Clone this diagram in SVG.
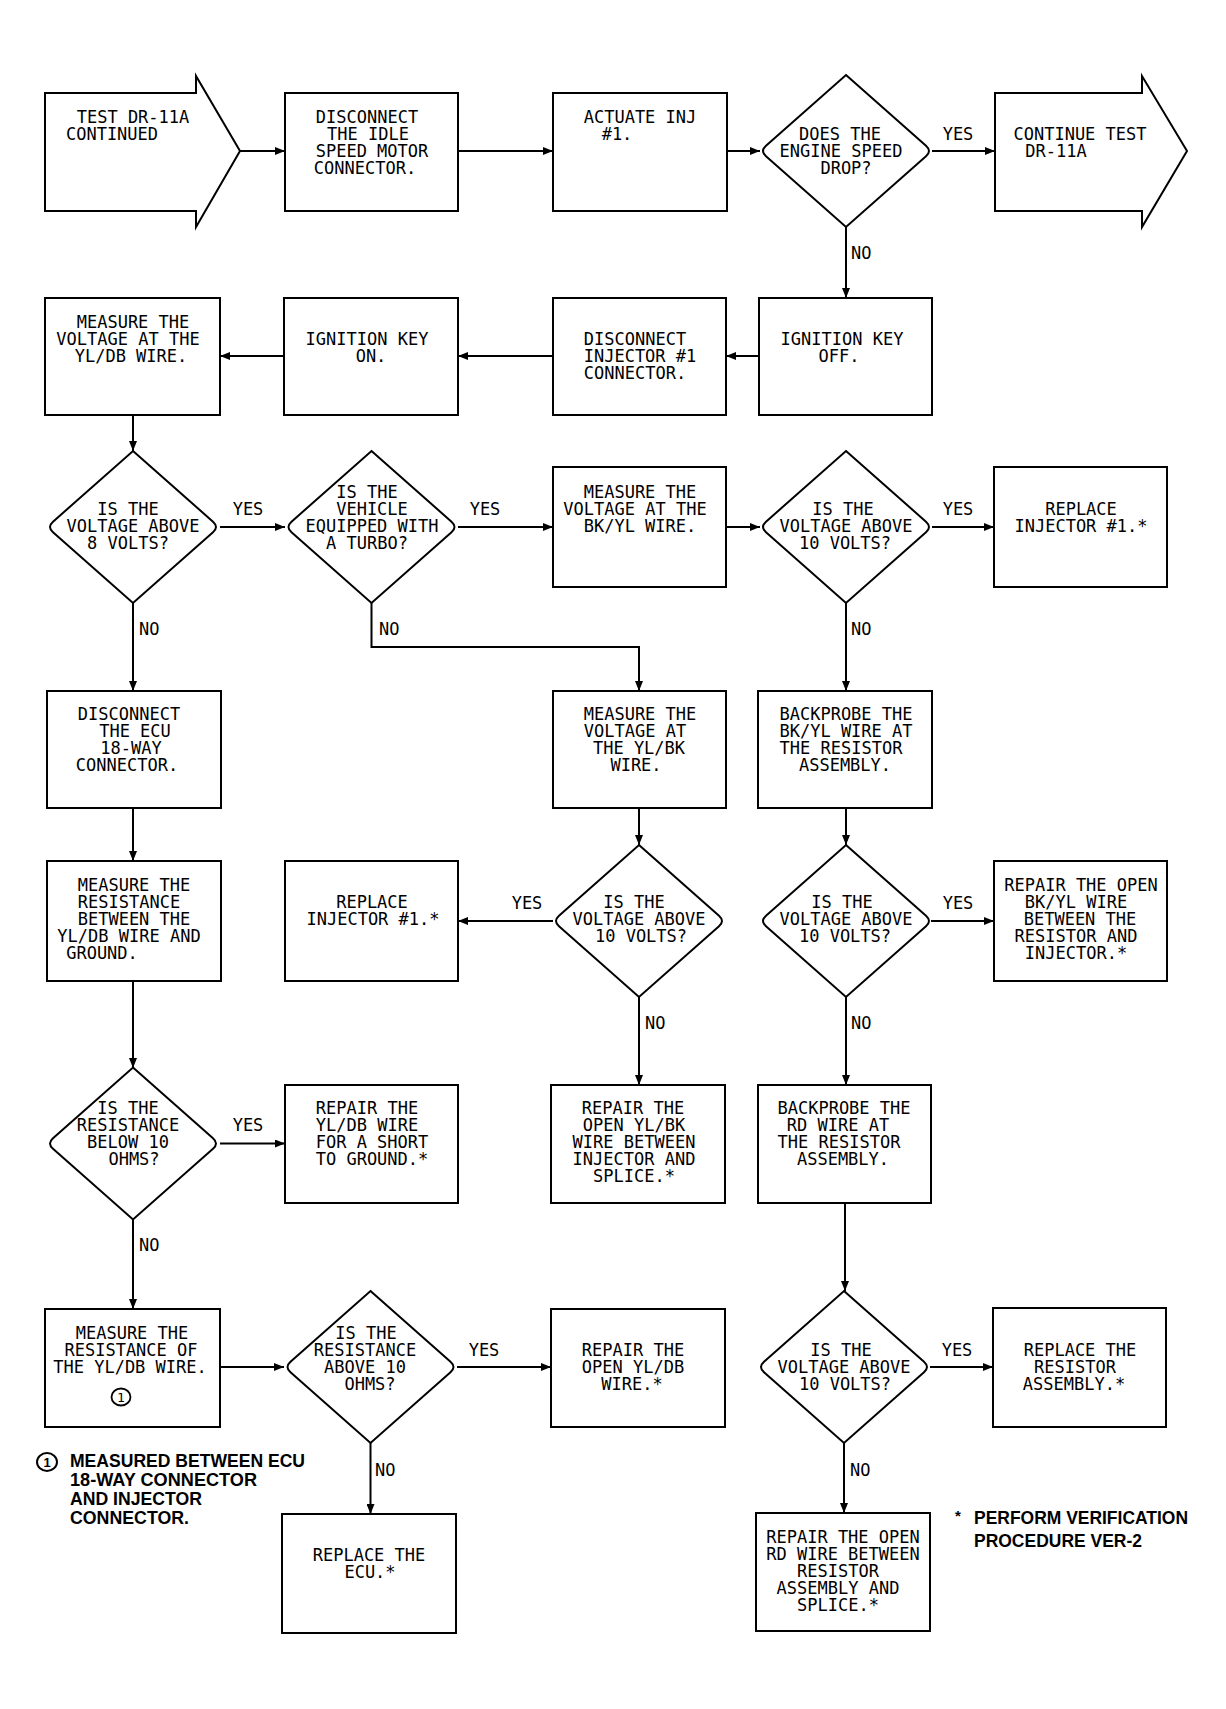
<svg xmlns="http://www.w3.org/2000/svg" xmlns:xlink="http://www.w3.org/1999/xlink" width="1226" height="1709" viewBox="0 0 1226 1709">
<style>
.bx{fill:#fff;stroke:#000;stroke-width:2}
.t{font-family:"DejaVu Sans Mono","Liberation Mono",monospace;font-size:17px;text-anchor:middle;fill:#000}
.l{font-family:"DejaVu Sans Mono","Liberation Mono",monospace;font-size:17px;fill:#000}
.c{fill:none;stroke:#000;stroke-width:2;marker-end:url(#ah)}
.fn{font-family:"Liberation Sans",Arial,sans-serif;font-weight:bold;font-size:18px;fill:#000}
</style>
<defs>
<marker id="ah" markerUnits="userSpaceOnUse" markerWidth="10" markerHeight="8" refX="10" refY="4" orient="auto">
<path d="M0,0 L10,4 L0,8 z" fill="#000"/>
</marker>
<path id="dia" d="M0,-76 L80,-5.3 Q86,0 80,5.3 L0,76 L-80,5.3 Q-86,0 -80,-5.3 Z" fill="#fff" stroke="#000" stroke-width="2"/>
</defs>
<rect width="1226" height="1709" fill="#fff"/>

<g id="connectors">
<path class="c" d="M240,151 H285"/>
<path class="c" d="M458,151 H553"/>
<path class="c" d="M727,151 H760"/>
<path class="c" d="M932,151 H995"/>
<path class="c" d="M846,227 V298"/>
<path class="c" d="M759,356 H726"/>
<path class="c" d="M553,356 H458"/>
<path class="c" d="M284,356 H220"/>
<path class="c" d="M133,415 V451"/>
<path class="c" d="M220,527 H285"/>
<path class="c" d="M458,527 H553"/>
<path class="c" d="M726,527 H760"/>
<path class="c" d="M932,527 H994"/>
<path class="c" d="M133,603 V691"/>
<path class="c" d="M371.5,603 V647 H639 V691"/>
<path class="c" d="M846,603 V691"/>
<path class="c" d="M133,808 V861"/>
<path class="c" d="M639,808 V845"/>
<path class="c" d="M846,808 V845"/>
<path class="c" d="M553,921 H458"/>
<path class="c" d="M931,921 H994"/>
<path class="c" d="M133,981 V1068"/>
<path class="c" d="M639,997 V1085"/>
<path class="c" d="M846,997 V1085"/>
<path class="c" d="M220,1143.5 H285"/>
<path class="c" d="M133,1219 V1309"/>
<path class="c" d="M845,1203 V1291"/>
<path class="c" d="M220,1367 H284"/>
<path class="c" d="M457,1367 H551"/>
<path class="c" d="M930,1367 H993"/>
<path class="c" d="M370.5,1443 V1514"/>
<path class="c" d="M844,1443 V1513"/>
</g>

<g id="edge-labels">
<text class="t" x="958" y="140">YES</text>
<text class="l" x="851" y="259">NO</text>
<text class="t" x="248" y="515">YES</text>
<text class="t" x="485" y="515">YES</text>
<text class="t" x="958" y="515">YES</text>
<text class="l" x="139" y="635">NO</text>
<text class="l" x="379" y="635">NO</text>
<text class="l" x="851" y="635">NO</text>
<text class="t" x="527" y="909">YES</text>
<text class="t" x="958" y="909">YES</text>
<text class="l" x="645" y="1029">NO</text>
<text class="l" x="851" y="1029">NO</text>
<text class="t" x="248" y="1131">YES</text>
<text class="l" x="139" y="1251">NO</text>
<text class="t" x="484" y="1356">YES</text>
<text class="t" x="957" y="1356">YES</text>
<text class="l" x="375" y="1476">NO</text>
<text class="l" x="850" y="1476">NO</text>
</g>

<g id="n-test-continued">
<polygon class="bx" points="45,93 196,93 196,76 240,151 196,227 196,211 45,211"/>
<text class="t" x="133" y="123">TEST DR-11A</text>
<text class="t" x="112" y="140">CONTINUED</text>
</g>
<g id="n-disconnect-isc">
<rect class="bx" x="285" y="93" width="173" height="118"/>
<text class="t" x="367" y="123">DISCONNECT</text>
<text class="t" x="368" y="140">THE IDLE</text>
<text class="t" x="372" y="157">SPEED MOTOR</text>
<text class="t" x="365" y="174">CONNECTOR.</text>
</g>
<g id="n-actuate">
<rect class="bx" x="553" y="93" width="174" height="118"/>
<text class="t" x="640" y="123">ACTUATE INJ</text>
<text class="t" x="617" y="140">#1.</text>
</g>
<g id="n-speed-drop">
<use xlink:href="#dia" x="846" y="151"/>
<text class="t" x="840" y="140">DOES THE</text>
<text class="t" x="841" y="157">ENGINE SPEED</text>
<text class="t" x="846" y="174">DROP?</text>
</g>
<g id="n-continue">
<polygon class="bx" points="995,93 1142,93 1142,76 1187,151 1142,227 1142,211 995,211"/>
<text class="t" x="1080" y="140">CONTINUE TEST</text>
<text class="t" x="1056" y="157">DR-11A</text>
</g>
<g id="n-ign-off">
<rect class="bx" x="759" y="298" width="173" height="117"/>
<text class="t" x="842" y="345">IGNITION KEY</text>
<text class="t" x="839" y="362">OFF.</text>
</g>
<g id="n-disc-inj">
<rect class="bx" x="553" y="298" width="173" height="117"/>
<text class="t" x="635" y="345">DISCONNECT</text>
<text class="t" x="640" y="362">INJECTOR #1</text>
<text class="t" x="635" y="379">CONNECTOR.</text>
</g>
<g id="n-ign-on">
<rect class="bx" x="284" y="298" width="174" height="117"/>
<text class="t" x="367" y="345">IGNITION KEY</text>
<text class="t" x="371" y="362">ON.</text>
</g>
<g id="n-meas-yldb">
<rect class="bx" x="45" y="298" width="175" height="117"/>
<text class="t" x="133" y="328">MEASURE THE</text>
<text class="t" x="128" y="345">VOLTAGE AT THE</text>
<text class="t" x="131" y="362">YL/DB WIRE.</text>
</g>
<g id="n-above-8">
<use xlink:href="#dia" x="133" y="527"/>
<text class="t" x="128" y="515">IS THE</text>
<text class="t" x="133" y="532">VOLTAGE ABOVE</text>
<text class="t" x="128" y="549">8 VOLTS?</text>
</g>
<g id="n-turbo">
<use xlink:href="#dia" x="371.5" y="527"/>
<text class="t" x="367" y="498">IS THE</text>
<text class="t" x="372" y="515">VEHICLE</text>
<text class="t" x="372" y="532">EQUIPPED WITH</text>
<text class="t" x="367" y="549">A TURBO?</text>
</g>
<g id="n-meas-bkyl">
<rect class="bx" x="553" y="467" width="173" height="120"/>
<text class="t" x="640" y="498">MEASURE THE</text>
<text class="t" x="635" y="515">VOLTAGE AT THE</text>
<text class="t" x="640" y="532">BK/YL WIRE.</text>
</g>
<g id="n-above-10a">
<use xlink:href="#dia" x="846" y="527"/>
<text class="t" x="843" y="515">IS THE</text>
<text class="t" x="846" y="532">VOLTAGE ABOVE</text>
<text class="t" x="845" y="549">10 VOLTS?</text>
</g>
<g id="n-replace-inj-a">
<rect class="bx" x="994" y="467" width="173" height="120"/>
<text class="t" x="1081" y="515">REPLACE</text>
<text class="t" x="1081" y="532">INJECTOR #1.*</text>
</g>
<g id="n-disc-ecu">
<rect class="bx" x="47" y="691" width="174" height="117"/>
<text class="t" x="129" y="720">DISCONNECT</text>
<text class="t" x="135" y="737">THE ECU</text>
<text class="t" x="131" y="754">18-WAY</text>
<text class="t" x="127" y="771">CONNECTOR.</text>
</g>
<g id="n-meas-ylbk">
<rect class="bx" x="553" y="691" width="173" height="117"/>
<text class="t" x="640" y="720">MEASURE THE</text>
<text class="t" x="635" y="737">VOLTAGE AT</text>
<text class="t" x="639" y="754">THE YL/BK</text>
<text class="t" x="636" y="771">WIRE.</text>
</g>
<g id="n-backprobe-bkyl">
<rect class="bx" x="758" y="691" width="174" height="117"/>
<text class="t" x="846" y="720">BACKPROBE THE</text>
<text class="t" x="846" y="737">BK/YL WIRE AT</text>
<text class="t" x="841" y="754">THE RESISTOR</text>
<text class="t" x="845" y="771">ASSEMBLY.</text>
</g>
<g id="n-meas-res-gnd">
<rect class="bx" x="47" y="861" width="174" height="120"/>
<text class="t" x="134" y="891">MEASURE THE</text>
<text class="t" x="129" y="908">RESISTANCE</text>
<text class="t" x="134" y="925">BETWEEN THE</text>
<text class="t" x="129" y="942">YL/DB WIRE AND</text>
<text class="t" x="102" y="959">GROUND.</text>
</g>
<g id="n-replace-inj-b">
<rect class="bx" x="285" y="861" width="173" height="120"/>
<text class="t" x="372" y="908">REPLACE</text>
<text class="t" x="373" y="925">INJECTOR #1.*</text>
</g>
<g id="n-above-10b">
<use xlink:href="#dia" x="639" y="921"/>
<text class="t" x="634" y="908">IS THE</text>
<text class="t" x="639" y="925">VOLTAGE ABOVE</text>
<text class="t" x="641" y="942">10 VOLTS?</text>
</g>
<g id="n-above-10c">
<use xlink:href="#dia" x="846" y="921"/>
<text class="t" x="842" y="908">IS THE</text>
<text class="t" x="846" y="925">VOLTAGE ABOVE</text>
<text class="t" x="845" y="942">10 VOLTS?</text>
</g>
<g id="n-repair-bkyl">
<rect class="bx" x="994" y="861" width="173" height="120"/>
<text class="t" x="1081" y="891">REPAIR THE OPEN</text>
<text class="t" x="1076" y="908">BK/YL WIRE</text>
<text class="t" x="1080" y="925">BETWEEN THE</text>
<text class="t" x="1076" y="942">RESISTOR AND</text>
<text class="t" x="1076" y="959">INJECTOR.*</text>
</g>
<g id="n-below-10">
<use xlink:href="#dia" x="133" y="1143.5"/>
<text class="t" x="128" y="1114">IS THE</text>
<text class="t" x="128" y="1131">RESISTANCE</text>
<text class="t" x="128" y="1148">BELOW 10</text>
<text class="t" x="134" y="1165">OHMS?</text>
</g>
<g id="n-repair-short">
<rect class="bx" x="285" y="1085" width="173" height="118"/>
<text class="t" x="367" y="1114">REPAIR THE</text>
<text class="t" x="367" y="1131">YL/DB WIRE</text>
<text class="t" x="372" y="1148">FOR A SHORT</text>
<text class="t" x="372" y="1165">TO GROUND.*</text>
</g>
<g id="n-repair-ylbk">
<rect class="bx" x="551" y="1085" width="174" height="118"/>
<text class="t" x="633" y="1114">REPAIR THE</text>
<text class="t" x="634" y="1131">OPEN YL/BK</text>
<text class="t" x="634" y="1148">WIRE BETWEEN</text>
<text class="t" x="634" y="1165">INJECTOR AND</text>
<text class="t" x="634" y="1182">SPLICE.*</text>
</g>
<g id="n-backprobe-rd">
<rect class="bx" x="758" y="1085" width="173" height="118"/>
<text class="t" x="844" y="1114">BACKPROBE THE</text>
<text class="t" x="838" y="1131">RD WIRE AT</text>
<text class="t" x="839" y="1148">THE RESISTOR</text>
<text class="t" x="843" y="1165">ASSEMBLY.</text>
</g>
<g id="n-meas-res-yldb">
<rect class="bx" x="45" y="1309" width="175" height="118"/>
<text class="t" x="132" y="1339">MEASURE THE</text>
<text class="t" x="131" y="1356">RESISTANCE OF</text>
<text class="t" x="130" y="1373">THE YL/DB WIRE.</text>
<ellipse cx="121" cy="1397" rx="9.5" ry="8.5" fill="none" stroke="#000" stroke-width="1.8"/>
<text class="t" x="121" y="1402" style="font-size:13px">1</text>
</g>
<g id="n-above-10-ohms">
<use xlink:href="#dia" x="370.5" y="1367"/>
<text class="t" x="366" y="1339">IS THE</text>
<text class="t" x="365" y="1356">RESISTANCE</text>
<text class="t" x="365" y="1373">ABOVE 10</text>
<text class="t" x="370" y="1390">OHMS?</text>
</g>
<g id="n-repair-yldb">
<rect class="bx" x="551" y="1309" width="174" height="118"/>
<text class="t" x="633" y="1356">REPAIR THE</text>
<text class="t" x="633" y="1373">OPEN YL/DB</text>
<text class="t" x="632" y="1390">WIRE.*</text>
</g>
<g id="n-above-10d">
<use xlink:href="#dia" x="844" y="1367"/>
<text class="t" x="841" y="1356">IS THE</text>
<text class="t" x="844" y="1373">VOLTAGE ABOVE</text>
<text class="t" x="845" y="1390">10 VOLTS?</text>
</g>
<g id="n-replace-resistor">
<rect class="bx" x="993" y="1308" width="173" height="119"/>
<text class="t" x="1080" y="1356">REPLACE THE</text>
<text class="t" x="1075" y="1373">RESISTOR</text>
<text class="t" x="1074" y="1390">ASSEMBLY.*</text>
</g>
<g id="n-replace-ecu">
<rect class="bx" x="282" y="1514" width="174" height="119"/>
<text class="t" x="369" y="1561">REPLACE THE</text>
<text class="t" x="370" y="1578">ECU.*</text>
</g>
<g id="n-repair-rd">
<rect class="bx" x="756" y="1513" width="174" height="118"/>
<text class="t" x="843" y="1543">REPAIR THE OPEN</text>
<text class="t" x="843" y="1560">RD WIRE BETWEEN</text>
<text class="t" x="838" y="1577">RESISTOR</text>
<text class="t" x="838" y="1594">ASSEMBLY AND</text>
<text class="t" x="838" y="1611">SPLICE.*</text>
</g>

<g id="footnote-1">
<ellipse cx="47" cy="1462" rx="10" ry="9" fill="none" stroke="#000" stroke-width="2"/>
<text x="47" y="1467" style="font-family:'Liberation Sans',Arial,sans-serif;font-weight:bold;font-size:13px;text-anchor:middle">1</text>
<text class="fn" x="70" y="1467" textLength="235" lengthAdjust="spacingAndGlyphs">MEASURED BETWEEN ECU</text>
<text class="fn" x="70" y="1486" textLength="187" lengthAdjust="spacingAndGlyphs">18-WAY CONNECTOR</text>
<text class="fn" x="70" y="1505" textLength="132" lengthAdjust="spacingAndGlyphs">AND INJECTOR</text>
<text class="fn" x="70" y="1524" textLength="119" lengthAdjust="spacingAndGlyphs">CONNECTOR.</text>
</g>
<g id="footnote-star">
<text class="fn" x="955" y="1521" style="font-size:15px">*</text>
<text class="fn" x="974" y="1524" textLength="214" lengthAdjust="spacingAndGlyphs">PERFORM VERIFICATION</text>
<text class="fn" x="974" y="1547" textLength="168" lengthAdjust="spacingAndGlyphs">PROCEDURE VER-2</text>
</g>
</svg>
